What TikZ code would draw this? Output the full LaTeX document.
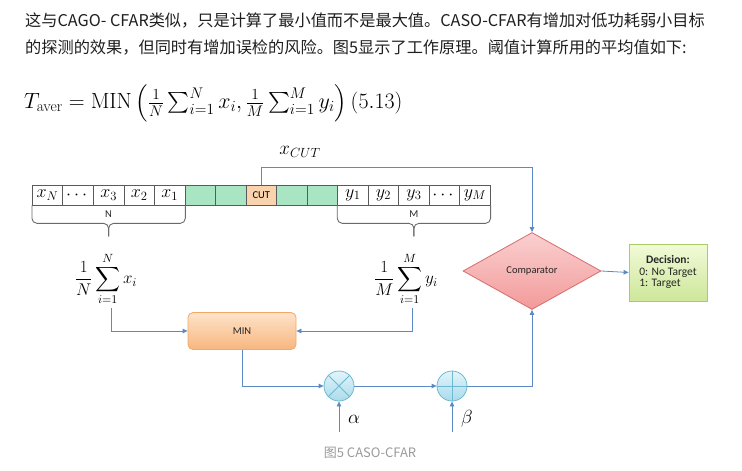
\RequirePackage{fix-cm}
\documentclass[tikz,border=0pt]{standalone}
\usepackage{amsmath}
\usepackage[no-math]{fontspec}
\newfontfamily\calib{Carlito}
\newfontfamily\cjk{Noto Sans CJK SC}
\usetikzlibrary{shapes.geometric,arrows.meta,calc}
\definecolor{lnblue}{HTML}{5B8AC6}
\definecolor{cellgreen}{HTML}{A9E5C3}
\definecolor{cellborder}{HTML}{5A5A5A}
\definecolor{cutorange}{HTML}{F9D2AE}
\definecolor{bracegray}{HTML}{6A6A6A}
\definecolor{minborder}{HTML}{F2A868}
\definecolor{mintop}{HTML}{FDE3CA}
\definecolor{minbot}{HTML}{F8B67E}
\definecolor{cmpborder}{HTML}{D86C6C}
\definecolor{cmptop}{HTML}{FAD0D0}
\definecolor{cmpbot}{HTML}{F39A9A}
\definecolor{decborder}{HTML}{A8CC66}
\definecolor{dectop}{HTML}{F2FAD8}
\definecolor{decbot}{HTML}{CDE79A}
\definecolor{circborder}{HTML}{6DB9D2}
\definecolor{circtop}{HTML}{E2F4FA}
\definecolor{circbot}{HTML}{A9DBEC}
\definecolor{captgray}{HTML}{9A9A9A}
\begin{document}
\begin{tikzpicture}[x=1pt,y=-1pt,
  cell/.style={draw=cellborder, line width=0.7pt, minimum width=30.53pt, minimum height=20pt, inner sep=0pt, font=\fontsize{18}{18}\selectfont},
  gcell/.style={cell, fill=cellgreen},
  conn/.style={draw=lnblue, line width=0.8pt},
  arr/.style={conn, -{Triangle[length=5pt,width=4.5pt]}},
  bracestyle/.style={draw=bracegray, line width=0.9pt, rounded corners=5pt},
  small/.style={font=\calib\fontsize{10.5}{12}\selectfont, text=black!85},
  sumstyle/.style={font=\fontsize{17}{20}\selectfont, inner sep=2pt},
  opcirc/.style={circle, draw=circborder, line width=0.8pt, minimum size=30pt, inner sep=0pt, top color=circtop, bottom color=circbot},
  bodytext/.style={font=\cjk\fontsize{16.2}{18}\selectfont, text=black!88, anchor=west, inner sep=0pt}
]
\useasboundingbox (0,0) rectangle (742,471);

% ---- text above ----
\node[bodytext] (t1) at (25,21) {这与CAGO- CFAR类似，只是计算了最小值而不是最大值。CASO-CFAR有增加对低功耗弱小目标};
\node[bodytext] (t2) at (25,48) {的探测的效果，但同时有增加误检的风险。图5显示了工作原理。阈值计算所用的平均值如下:};
\node[anchor=west, inner sep=0pt, font=\fontsize{22}{24}\selectfont] (eq) at (24,103)
  {$T_{\text{aver}}=\mathrm{MIN}\left(\frac{1}{N}\sum_{i=1}^{N}x_i,\frac{1}{M}\sum_{i=1}^{M}y_i\right)(5.13)$};

% ---- cell row ----
\node[cell] (c0) at ({32.3+0.5*30.53},195) {$x_N$};
\node[cell] (c1) at ({32.3+1.5*30.53},195) {$\cdots$};
\node[cell] (c2) at ({32.3+2.5*30.53},195) {$x_3$};
\node[cell] (c3) at ({32.3+3.5*30.53},195) {$x_2$};
\node[cell] (c4) at ({32.3+4.5*30.53},195) {$x_1$};
\node[gcell] (c5) at ({32.3+5.5*30.53},195) {};
\node[gcell] (c6) at ({32.3+6.5*30.53},195) {};
\node[cell, fill=cutorange, font=\calib\fontsize{10.5}{11}\selectfont] (c7) at ({32.3+7.5*30.53},195) {CUT};
\node[gcell] (c8) at ({32.3+8.5*30.53},195) {};
\node[gcell] (c9) at ({32.3+9.5*30.53},195) {};
\node[cell] (c10) at ({32.3+10.5*30.53},195) {$y_1$};
\node[cell] (c11) at ({32.3+11.5*30.53},195) {$y_2$};
\node[cell] (c12) at ({32.3+12.5*30.53},195) {$y_3$};
\node[cell] (c13) at ({32.3+13.5*30.53},195) {$\cdots$};
\node[cell] (c14) at ({32.3+14.5*30.53},195) {$y_M$};

% ---- braces ----
\coordinate (ntip) at ($(c0.south west)!.5!(c4.south east)+(0,31)$);
\coordinate (mtip) at ($(c10.south west)!.5!(c14.south east)+(0,31)$);
\draw[bracestyle] (c0.south west) -- ++(0,18) -| (ntip);
\draw[bracestyle] (c4.south east) -- ++(0,18) -| (ntip);
\draw[bracestyle] (c10.south west) -- ++(0,18) -| (mtip);
\draw[bracestyle] (c14.south east) -- ++(0,18) -| (mtip);
\node[small] (nlab) at ($(c0.south west)!.5!(c4.south east)+(0,9)$) {N};
\node[small] (mlab) at ($(c10.south west)!.5!(c14.south east)+(0,9)$) {M};

% ---- sums ----
\node[sumstyle] (sx) at (106,279) {$\displaystyle\frac{1}{N}\sum_{i=1}^{N}x_i$};
\node[sumstyle] (sy) at (406,279) {$\displaystyle\frac{1}{M}\sum_{i=1}^{M}y_i$};

% ---- MIN ----
\node[draw=minborder, line width=0.8pt, rounded corners=5pt, top color=mintop, bottom color=minbot,
      minimum width=108pt, minimum height=37pt, small] (min) at (242,331) {MIN};

% ---- operators ----
\node[opcirc] (mul) at (339,386) {};
\draw[draw=circborder, line width=0.8pt] (mul.north west) -- (mul.south east) (mul.north east) -- (mul.south west);
\node[opcirc] (add) at (452,386) {};
\draw[draw=circborder, line width=0.8pt] (add.north) -- (add.south) (add.west) -- (add.east);
\coordinate (ain) at (339,432);
\coordinate (bin) at (452,432);
\node[font=\fontsize{19}{20}\selectfont] (alab) at (354,419) {$\alpha$};
\node[font=\fontsize{19}{20}\selectfont] (blab) at (467,419) {$\beta$};

% ---- comparator and decision ----
\node[diamond, draw=cmpborder, line width=0.8pt, top color=cmptop, bottom color=cmpbot,
      minimum width=138pt, minimum height=77pt, inner sep=0pt, small] (cmp) at (532,271) {Comparator};
\node[draw=decborder, line width=0.8pt, top color=dectop, bottom color=decbot,
      minimum width=78pt, minimum height=57pt, inner sep=2pt, font=\calib\fontsize{11.5}{13}\selectfont, text=black!85] (dec) at (668,272.5)
  {\begin{tabular}{@{}l@{}}\multicolumn{1}{@{}c@{}}{\textbf{Decision:}}\\[-1.5pt]0: No Target\\[-1.5pt]1: Target\end{tabular}};

% ---- connectors ----
\coordinate (cutc) at (532,167);
\node[font=\fontsize{19}{21}\selectfont] (xcut) at (300,152) {$x_{CUT}$};
\draw[arr] (c7.north) |- (cutc) -- (cmp.north);
\draw[arr] ([xshift=5pt]sx.south) |- (min.west);
\draw[arr] ([xshift=6pt]sy.south) |- (min.east);
\draw[arr] (min.south) |- (mul.west);
\draw[arr] (mul.east) -- (add.west);
\draw[arr] (ain) -- (mul.south);
\draw[arr] (bin) -- (add.south);
\draw[arr] (add.east) -| (cmp.south);
\draw[arr] (cmp.east) -- (dec.west);

% ---- caption ----
\node[font=\cjk\fontsize{13}{15}\selectfont, text=captgray] (cap) at (370,453) {图5 CASO-CFAR};
\end{tikzpicture}
\end{document}
